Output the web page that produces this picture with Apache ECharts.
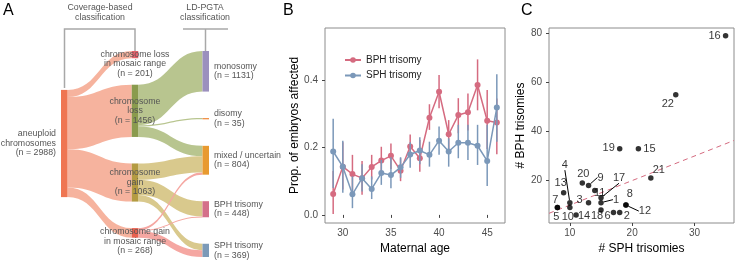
<!DOCTYPE html>
<html><head><meta charset="utf-8">
<script src="https://cdn.jsdelivr.net/npm/echarts@6/dist/echarts.min.js"></script>
<style>html,body{margin:0;padding:0;background:#fff}#c{width:736px;height:264px}</style>
</head><body><div id="c"></div>
<script>
// ---------- Panel A: Sankey data ----------
const nodeNames = ['aneuploid', 'lossMosaic', 'loss', 'gain', 'gainMosaic', 'monosomy', 'disomy', 'mixed', 'bph', 'sph'];
const nodeLabels = ['aneuploid\nchromosomes', 'chromosome loss\nin mosaic range', 'chromosome\nloss', 'chromosome\ngain', 'chromosome gain\nin mosaic range', 'monosomy', 'disomy', 'mixed / uncertain', 'BPH trisomy', 'SPH trisomy'];
const nodeCounts = [2988, 201, 1456, 1063, 268, 1131, 35, 804, 448, 369];
const nodeDepths = [0, 1, 1, 1, 1, 2, 2, 2, 2, 2];
const flowSource = ['aneuploid', 'aneuploid', 'aneuploid', 'aneuploid', 'loss', 'loss', 'loss', 'gain', 'gain', 'gain', 'gainMosaic', 'gainMosaic', 'gainMosaic'];
const flowTarget = ['lossMosaic', 'loss', 'gain', 'gainMosaic', 'monosomy', 'disomy', 'mixed', 'mixed', 'bph', 'sph', 'mixed', 'bph', 'sph'];
const flowValue = [201, 1456, 1063, 268, 1131, 35, 290, 454, 428, 181, 60, 20, 188];

// ---------- Panel B: maternal age ----------
const ages = [29, 30, 31, 32, 33, 34, 35, 36, 37, 38, 39, 40, 41, 42, 43, 44, 45, 46];
const bphProp = [0.062, 0.143, 0.121, 0.109, 0.142, 0.161, 0.175, 0.131, 0.203, 0.168, 0.288, 0.365, 0.239, 0.296, 0.304, 0.385, 0.279, 0.274];
const bphLow  = [0.003, 0.075, 0.065, 0.060, 0.105, 0.118, 0.136, 0.100, 0.170, 0.128, 0.252, 0.316, 0.196, 0.242, 0.250, 0.310, 0.195, 0.180];
const bphHigh = [0.130, 0.215, 0.178, 0.160, 0.178, 0.202, 0.212, 0.168, 0.238, 0.222, 0.328, 0.415, 0.281, 0.346, 0.360, 0.461, 0.370, 0.345];
const sphProp = [0.188, 0.143, 0.061, 0.109, 0.077, 0.124, 0.118, 0.141, 0.179, 0.191, 0.178, 0.220, 0.188, 0.214, 0.214, 0.205, 0.160, 0.318];
const sphLow  = [0.080, 0.066, 0.020, 0.069, 0.047, 0.089, 0.079, 0.110, 0.140, 0.150, 0.143, 0.178, 0.143, 0.168, 0.163, 0.148, 0.086, 0.217];
const sphHigh = [0.285, 0.220, 0.114, 0.150, 0.114, 0.163, 0.171, 0.171, 0.215, 0.230, 0.217, 0.262, 0.227, 0.267, 0.267, 0.267, 0.267, 0.417];
const ageTicks = [30, 35, 40, 45];
const propTicks = [0, 0.2, 0.4];

// ---------- Panel C: per-chromosome counts ----------
const chromosomes = ['1','2','3','4','5','6','7','8','9','10','11','12','13','14','15','16','17','18','19','20','21','22'];
const sphCounts = [15, 18, 13, 10, 8, 17, 8, 19, 13, 10, 14, 19, 9, 11, 21, 35, 15, 15, 18, 12, 23, 27];
const bphCounts = [11, 7, 11, 11, 9, 7, 9, 10, 18, 9, 16, 10, 15, 6, 33, 79, 13, 8, 33, 19, 21, 55];
const sphTicks = [10, 20, 30];
const bphTicks = [20, 40, 60, 80];

// ---------- styles (kept apart from the data) ----------
const FONT = "'Liberation Sans', Arial, Helvetica, sans-serif";
const nodeColor = {aneuploid:'#EF7652', lossMosaic:'#E5626B', loss:'#8A9B4E', gain:'#B49B42', gainMosaic:'#E8614F',
  monosomy:'#9B90BE', disomy:'#F08A3C', mixed:'#E89A30', bph:'#D4708A', sph:'#7C9AB8'};
const linkColor = {aneuploid:'#F6B39E', loss:'#B8C58F', gain:'#D9C98D', gainMosaic:'#F5A7A2'};
const labelOffset = {lossMosaic:[0, 9], gainMosaic:[0, 8.5]};
const BPH_COL = '#D56B80', SPH_COL = '#7B98B9';
const SK_TOP = 51, SK_H = 206, SK_GAP = 26.5;
// label displacement (dx, dy in px) for repelled scatter labels, and whether a segment is drawn
const repel = {
  '16':[-11,0,0], '22':[-8,9,0], '19':[-11,-1,0], '15':[11,0,0], '21':[8,-8,0], '20':[1,-9,0],
  '9':[12,-8,1], '13':[-3,-10,0], '17':[18,-20,1], '4':[-5,-38,1], '7':[-2,-8,0], '3':[-9,-3,0],
  '1':[15,-3,1], '8':[4,-11,0], '12':[19,6,1], '5':[-1,9,0], '10':[-2,9,0], '14':[8,1,0],
  '18':[-4,6,0], '6':[-6,4,0], '2':[7,4,0], '11':[5,3,0]
};

// The source column is centred on the flow-weighted centre of its targets:
// a transparent spacer above it (in value units) places it there.
function sourceSpacer() {
  const idx = d => nodeDepths.map((v, i) => v === d ? i : -1).filter(i => i >= 0);
  const last = idx(2), mid = idx(1), first = idx(0)[0];
  const tot2 = last.reduce((s, i) => s + nodeCounts[i], 0);
  const ky = (SK_H - (last.length - 1) * SK_GAP) / tot2;
  const gv = SK_GAP / ky;
  let y = 0, wsum = 0;
  mid.forEach((i, k) => {
    const c = y + nodeCounts[i] / 2;
    const f = flowSource.findIndex((s, j) => s === nodeNames[first] && flowTarget[j] === nodeNames[i]);
    wsum += c * flowValue[f];
    y += nodeCounts[i] + gv;
  });
  const centre = wsum / nodeCounts[first];
  return Math.max(0, centre - nodeCounts[first] / 2 - gv);
}

const sankeyData = [{name: '_spacer', depth: 0, value: sourceSpacer(),
  itemStyle: {opacity: 0}, label: {show: false}}].concat(nodeNames.map((n, i) => ({
  name: n, depth: nodeDepths[i],
  itemStyle: {color: nodeColor[n]},
  label: {position: nodeDepths[i] === 0 ? 'left' : (nodeDepths[i] === 1 ? 'inside' : 'right'),
          offset: labelOffset[n] || [0, 0], distance: 5}
})));
const sankeyLinks = flowSource.map((s, i) => ({
  source: s, target: flowTarget[i], value: flowValue[i],
  lineStyle: {color: linkColor[s], opacity: 1}
}));

const chart = echarts.init(document.getElementById('c'), null, {renderer: 'canvas'});

const grayLine = {stroke: '#A8A8A8', lineWidth: 1.5};
const option = {
  backgroundColor: '#fff',
  textStyle: {fontFamily: FONT},
  animation: false,
  graphic: [
    {type:'text', left: 3, top: 3, style:{text:'A', fontSize:16, fontFamily:FONT, fill:'#000'}},
    {type:'text', left: 283, top: 3, style:{text:'B', fontSize:16, fontFamily:FONT, fill:'#000'}},
    {type:'text', left: 521, top: 3, style:{text:'C', fontSize:16, fontFamily:FONT, fill:'#000'}},
    {type:'text', x: 100, y: 3, style:{text:'Coverage-based\nclassification', fontSize:8.8, lineHeight:9.5, fontFamily:FONT, fill:'#555', align:'center'}},
    {type:'text', x: 205, y: 3, style:{text:'LD-PGTA\nclassification', fontSize:8.8, lineHeight:9.5, fontFamily:FONT, fill:'#555', align:'center'}},
    {type:'polyline', shape:{points:[[64.5, 88],[64.5, 29],[135, 29],[135, 51]]}, style: grayLine},
    {type:'line', shape:{x1:183, y1:29, x2:228, y2:29}, style: grayLine},
    {type:'line', shape:{x1:205.5, y1:29, x2:205.5, y2:51}, style: grayLine}
  ],
  legend: {
    data: ['BPH trisomy', 'SPH trisomy'], orient: 'vertical', left: 339, top: 50,
    itemWidth: 16, itemHeight: 7, itemGap: 5.5,
    textStyle: {fontSize: 10, color: '#222', fontFamily: FONT}
  },
  grid: [
    {left: 325, top: 28, width: 180, height: 195, show: true, borderColor: '#8C8C8C', borderWidth: 1, backgroundColor: 'transparent'},
    {left: 549, top: 28, width: 185, height: 195, show: true, borderColor: '#8C8C8C', borderWidth: 1, backgroundColor: 'transparent'}
  ],
  xAxis: [
    {type:'value', gridIndex:0, min:28.15, max:46.85, splitLine:{show:false}, axisLine:{show:false},
     axisTick:{show:true, customValues: ageTicks, length:3, lineStyle:{color:'#444'}},
     axisLabel:{customValues: ageTicks, fontSize:10, color:'#4D4D4D', margin:5, fontFamily:FONT},
     name:'Maternal age', nameLocation:'middle', nameGap:16, nameTextStyle:{fontSize:12, color:'#000', fontFamily:FONT}},
    {type:'value', gridIndex:1, min:6.65, max:36.35, splitLine:{show:false}, axisLine:{show:false},
     axisTick:{show:true, customValues: sphTicks, length:3, lineStyle:{color:'#444'}},
     axisLabel:{customValues: sphTicks, fontSize:10, color:'#4D4D4D', margin:5, fontFamily:FONT},
     name:'# SPH trisomies', nameLocation:'middle', nameGap:16, nameTextStyle:{fontSize:12, color:'#000', fontFamily:FONT}}
  ],
  yAxis: [
    {type:'value', gridIndex:0, min:-0.024, max:0.554, splitLine:{show:false}, axisLine:{show:false},
     axisTick:{show:true, customValues: propTicks, length:3, lineStyle:{color:'#444'}},
     axisLabel:{customValues: propTicks, fontSize:10, color:'#4D4D4D', margin:7, fontFamily:FONT, formatter: v => v.toFixed(1)},
     name:'Prop. of embryos affected', nameLocation:'middle', nameGap:24, nameTextStyle:{fontSize:12, color:'#000', fontFamily:FONT}},
    {type:'value', gridIndex:1, min:2.7, max:82.2, splitLine:{show:false}, axisLine:{show:false},
     axisTick:{show:true, customValues: bphTicks, length:3, lineStyle:{color:'#444'}},
     axisLabel:{customValues: bphTicks, fontSize:10, color:'#4D4D4D', margin:7, fontFamily:FONT},
     name:'# BPH trisomies', nameLocation:'middle', nameGap:21, nameTextStyle:{fontSize:12, color:'#000', fontFamily:FONT}}
  ],
  series: [
    {
      type: 'sankey', left: 61, top: SK_TOP, width: 148, height: SK_H,
      nodeWidth: 6.5, nodeGap: SK_GAP, nodeAlign: 'left', layoutIterations: 0, draggable: false,
      emphasis: {disabled: true}, silent: true,
      data: sankeyData, links: sankeyLinks,
      lineStyle: {curveness: 0.5, opacity: 1},
      itemStyle: {borderWidth: 0},
      label: {fontSize: 8.8, lineHeight: 9.5, color: '#555', fontFamily: FONT,
        formatter: p => { const i = nodeNames.indexOf(p.name); return i < 0 ? '' : nodeLabels[i] + '\n(n = ' + nodeCounts[i] + ')'; }}
    },
    {
      name: 'bphErr', type: 'custom', xAxisIndex: 0, yAxisIndex: 0, z: 2,
      data: ages.map((a, i) => [a, bphLow[i], bphHigh[i]]),
      encode: {x: 0, y: [1, 2]},
      renderItem: (params, api) => {
        const p1 = api.coord([api.value(0), api.value(1)]), p2 = api.coord([api.value(0), api.value(2)]);
        return {type:'line', shape:{x1:p1[0], y1:p1[1], x2:p2[0], y2:p2[1]}, style:{stroke: BPH_COL, lineWidth: 1.5}};
      }
    },
    {
      name: 'BPH trisomy', type: 'line', xAxisIndex: 0, yAxisIndex: 0, z: 3,
      data: ages.map((a, i) => [a, bphProp[i]]),
      symbol: 'circle', symbolSize: 6, showSymbol: true,
      itemStyle: {color: BPH_COL}, lineStyle: {color: BPH_COL, width: 1.5}
    },
    {
      name: 'sphErr', type: 'custom', xAxisIndex: 0, yAxisIndex: 0, z: 4,
      data: ages.map((a, i) => [a, sphLow[i], sphHigh[i]]),
      encode: {x: 0, y: [1, 2]},
      renderItem: (params, api) => {
        const p1 = api.coord([api.value(0), api.value(1)]), p2 = api.coord([api.value(0), api.value(2)]);
        return {type:'line', shape:{x1:p1[0], y1:p1[1], x2:p2[0], y2:p2[1]}, style:{stroke: SPH_COL, lineWidth: 1.5}};
      }
    },
    {
      name: 'SPH trisomy', type: 'line', xAxisIndex: 0, yAxisIndex: 0, z: 5,
      data: ages.map((a, i) => [a, sphProp[i]]),
      symbol: 'circle', symbolSize: 6, showSymbol: true,
      itemStyle: {color: SPH_COL}, lineStyle: {color: SPH_COL, width: 1.5}
    },
    {
      name: 'identity', type: 'line', xAxisIndex: 1, yAxisIndex: 1, z: 2,
      data: [[6.65, 6.65], [36.35, 36.35]], showSymbol: false, symbol: 'none',
      lineStyle: {color: BPH_COL, width: 1, type: [5, 4]}, clip: true
    },
    {
      name: 'chromosomes', type: 'scatter', xAxisIndex: 1, yAxisIndex: 1, z: 6,
      symbolSize: 5.5, itemStyle: {color: '#000'},
      data: chromosomes.map((c, i) => ({value: [sphCounts[i], bphCounts[i]], name: c,
        labelLine: {show: !!repel[c][2], lineStyle: {color: '#000', width: 1}}})),
      label: {show: true, position: 'inside', formatter: p => p.name, fontSize: 11, color: '#000', fontFamily: FONT},
      labelLine: {show: false},
      labelLayout: p => { const r = repel[chromosomes[p.dataIndex]] || [0, 0, 0]; return {dx: r[0], dy: r[1]}; }
    }
  ]
};
chart.setOption(option);
</script></body></html>
